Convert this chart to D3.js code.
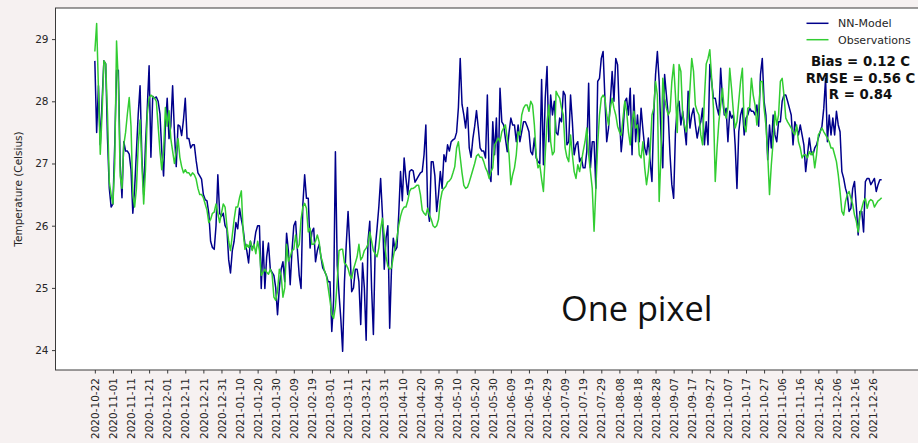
<!DOCTYPE html>
<html>
<head>
<meta charset="utf-8">
<script src="https://cdn.jsdelivr.net/npm/d3@7"></script>
<style>
  html, body { margin: 0; padding: 0; background: #f6f1f1; }
  svg { display: block; }
</style>
</head>
<body>
<svg id="chart" width="918" height="443"></svg>
<script>
// Daily water temperature, 2020-10-22 .. 2021-12-31
const startDate = "2020-10-22";

const tickLabels = [
  "2020-10-22","2020-11-01","2020-11-11","2020-11-21","2020-12-01","2020-12-11","2020-12-21","2020-12-31",
  "2021-01-10","2021-01-20","2021-01-30","2021-02-09","2021-02-19","2021-03-01","2021-03-11","2021-03-21",
  "2021-03-31","2021-04-10","2021-04-20","2021-04-30","2021-05-10","2021-05-20","2021-05-30","2021-06-09",
  "2021-06-19","2021-06-29","2021-07-09","2021-07-19","2021-07-29","2021-08-08","2021-08-18","2021-08-28",
  "2021-09-07","2021-09-17","2021-09-27","2021-10-07","2021-10-17","2021-10-27","2021-11-06","2021-11-16",
  "2021-11-26","2021-12-06","2021-12-16","2021-12-26"
];

const yTicks = [24, 25, 26, 27, 28, 29];

const nnModel = [
  28.65,27.5,28.25,27.3,28.0,28.65,28.6,27.4,26.6,26.3,
  26.35,27.3,28.5,28.5,27.0,26.45,27.35,27.2,27.2,27.15,
  26.9,26.2,26.6,27.2,27.8,28.25,27.1,26.5,27.3,27.9,
  28.57,27.1,28.08,28.05,28.07,28.0,27.8,27.2,26.8,27.6,
  28.05,27.4,27.6,28.25,27.5,26.95,27.62,27.6,27.45,27.7,
  28.05,27.4,27.4,27.25,27.3,27.3,27.05,26.85,26.8,26.75,
  26.5,26.42,26.4,26.2,25.75,25.65,25.62,26.0,26.82,26.2,
  26.15,26.2,26.0,25.95,25.45,25.24,25.6,25.75,26.05,25.95,
  26.28,26.1,25.95,25.7,25.6,25.4,25.75,25.62,25.7,25.9,
  26.0,26.0,24.99,25.75,24.99,25.5,25.72,25.3,25.25,25.2,
  25.0,24.57,25.0,25.3,25.42,25.1,25.88,25.6,25.05,25.6,
  26.0,26.07,25.6,25.2,24.99,26.34,26.82,26.44,26.44,25.64,
  25.9,25.96,25.42,25.6,25.7,25.5,25.32,25.27,25.2,25.1,
  25.1,24.3,24.8,27.19,25.37,24.9,24.5,23.98,25.1,25.7,
  26.23,25.64,24.94,25.0,25.3,25.3,25.1,24.41,25.4,25.0,
  24.16,25.75,26.07,25.0,24.25,25.64,25.95,26.3,26.76,26.18,
  25.3,25.8,26.0,24.35,25.3,25.8,25.6,25.65,26.18,26.87,
  26.4,27.09,26.76,26.5,26.87,26.9,26.88,26.7,26.75,26.8,
  26.85,26.87,27.14,27.62,26.3,26.07,27.03,27.03,26.8,26.23,
  26.5,26.87,26.6,27.14,27.03,27.3,27.2,27.35,27.38,27.4,
  27.5,27.9,28.69,27.95,27.78,27.57,27.9,27.25,27.1,27.4,
  27.6,27.85,27.57,27.25,27.2,27.2,27.09,28.1,26.82,26.71,
  27.67,27.14,27.73,26.82,28.21,27.67,27.62,27.4,27.19,27.5,
  27.73,27.62,27.62,27.35,27.62,27.35,27.51,27.67,27.67,27.6,
  27.51,27.19,27.14,27.41,27.09,27.03,27.0,28.35,26.98,28.05,
  28.56,27.35,28.1,27.78,28.0,27.5,27.46,27.73,27.67,28.16,
  28.1,27.3,27.35,28.1,27.67,27.14,27.3,27.35,27.03,27.09,
  26.93,26.93,27.2,28.29,26.93,27.35,27.35,26.6,28.32,28.37,
  28.69,28.8,28.05,27.35,27.57,28.0,28.48,28.0,28.69,28.59,
  27.78,27.19,27.5,27.99,28.05,27.78,28.21,27.14,28.1,27.35,
  27.78,27.35,27.89,27.55,27.25,27.14,27.41,27.03,26.71,27.78,
  28.43,28.8,28.32,27.46,26.93,28.43,28.1,27.78,27.14,26.66,
  26.44,27.5,27.9,28.0,27.62,27.84,27.57,27.3,28.16,27.57,
  27.78,27.89,27.62,27.41,27.57,27.67,27.89,27.3,27.67,27.3,
  28.59,28.32,28.05,28.05,27.89,27.78,28.53,28.05,27.78,27.89,
  27.35,27.84,27.73,27.78,27.3,26.6,27.51,27.78,27.89,27.46,
  27.73,27.78,27.89,27.84,27.84,27.78,27.94,27.6,28.43,28.69,
  28.0,27.78,27.06,27.62,27.25,27.78,27.46,27.35,27.67,27.67,
  28.0,28.1,28.1,28.0,27.89,27.78,27.3,27.67,27.57,27.46,
  27.62,27.46,27.3,26.87,27.14,27.41,27.19,27.14,27.25,27.3,
  27.41,27.51,27.6,27.89,28.37,27.35,27.78,27.46,27.73,27.46,
  27.84,27.62,27.51,26.87,26.76,26.6,26.5,26.23,26.28,26.6,
  26.71,26.3,25.85,26.23,26.23,25.9,26.71,26.76,26.76,26.66,
  26.71,26.76,26.55,26.66,26.74,26.74
];

const observations = [
  28.8,29.25,28.2,27.15,27.8,28.65,28.6,27.8,26.7,26.5,
  26.35,27.0,28.97,28.3,26.8,26.6,27.3,27.5,27.8,28.06,
  27.6,26.5,26.3,26.6,27.3,27.7,27.0,26.35,26.9,27.8,
  28.05,28.1,28.07,28.05,28.0,27.6,27.2,26.9,27.2,27.9,
  27.6,27.85,27.4,27.2,27.0,27.2,27.4,27.1,26.95,26.85,
  26.9,26.85,26.85,26.8,26.85,26.82,26.75,26.6,26.5,26.5,
  26.45,26.35,26.25,26.05,26.1,26.2,26.22,26.35,26.2,26.05,
  26.2,26.35,26.3,26.0,25.75,25.6,25.85,26.1,26.3,26.3,
  26.45,26.56,25.9,25.62,25.7,25.65,25.75,25.6,25.7,25.55,
  25.75,25.6,25.2,25.25,25.3,25.25,25.22,25.3,25.22,24.85,
  24.8,24.95,25.3,25.2,24.85,25.0,25.7,25.43,25.5,25.6,
  25.62,25.85,25.64,25.7,26.1,26.3,26.36,26.28,25.9,25.96,
  25.7,25.7,25.75,25.85,25.74,25.5,25.4,25.27,25.2,25.0,
  24.8,24.57,24.51,24.7,25.1,25.6,25.62,25.62,25.4,25.37,
  25.31,25.2,25.15,25.3,25.4,25.5,25.7,25.45,25.5,25.6,
  25.64,25.7,25.9,25.75,25.6,25.55,25.5,25.64,25.95,26.12,
  25.85,25.5,25.35,25.3,25.32,25.5,25.65,25.8,26.0,26.15,
  26.25,26.3,26.3,26.4,26.55,26.6,26.6,26.62,26.65,26.65,
  26.5,26.25,26.2,26.17,26.28,26.17,26.1,26.0,25.97,26.0,
  26.1,26.4,26.55,26.6,26.63,26.7,26.72,26.76,26.85,26.95,
  27.25,27.35,27.1,26.85,26.65,26.6,26.62,26.7,26.8,26.9,
  27.0,27.12,27.15,27.1,27.1,27.03,26.93,26.87,26.76,26.87,
  26.93,27.3,27.35,27.41,27.35,27.51,27.57,27.62,27.4,27.14,
  26.66,26.82,26.93,27.14,27.51,27.46,27.78,27.89,27.94,27.94,
  27.84,28.0,27.94,27.62,27.14,26.93,26.98,26.75,26.55,27.14,
  27.67,27.94,27.35,27.14,27.19,28.16,28.1,28.05,27.89,27.78,
  27.25,27.1,27.03,27.46,27.14,26.87,26.76,26.98,26.87,27.03,
  27.2,27.35,27.57,27.14,26.87,26.6,25.91,26.6,27.3,27.78,
  28.05,28.1,28.05,27.78,27.62,27.89,28.05,27.89,27.78,27.6,
  27.51,27.45,27.73,28.0,27.84,27.51,27.3,27.67,27.84,27.57,
  27.62,27.14,27.09,27.35,26.93,26.66,26.87,27.2,27.78,27.89,
  28.32,28.1,26.39,27.14,28.37,28.05,27.89,27.78,27.84,28.32,
  28.59,28.1,27.5,28.59,28.48,27.78,27.62,27.51,27.73,28.2,
  28.69,28.48,27.94,27.84,27.78,27.46,27.3,28.05,28.6,28.69,
  28.83,28.37,27.89,26.71,27.25,27.67,27.94,28.21,27.84,27.73,
  27.9,28.53,28.21,27.84,27.57,27.67,28.0,28.32,28.53,27.62,
  27.51,27.89,27.9,28.37,28.1,27.94,27.62,27.84,28.32,28.32,
  27.89,27.62,27.14,26.5,26.98,27.35,27.84,27.62,27.78,28.32,
  28.37,28.1,27.73,27.67,27.62,27.57,27.51,27.46,27.62,27.35,
  27.25,27.09,27.14,27.14,27.09,27.19,27.14,27.19,26.93,27.14,
  27.46,27.51,27.57,27.51,27.46,27.41,27.35,27.25,27.25,27.14,
  27.03,26.82,26.55,26.23,26.17,26.39,26.5,26.55,26.44,26.34,
  26.17,26.07,25.9,26.17,26.28,26.39,26.44,26.28,26.39,26.42,
  26.4,26.3,26.35,26.4,26.42,26.45
];

const seriesNames = ["NN-Model", "Observations"];
const seriesColors = ["#00008b", "#32cd32"];
const statsLines = ["Bias = 0.12 C", "RMSE = 0.56 C", "R = 0.84"];
const yLabel = "Temperature (Celsius)";
const note = "One pixel";

// ---- layout ----
const svg = d3.select("#chart");
const plot = { left: 55.5, top: 8, right: 921, bottom: 370 };
const tickFont = "10.5px";

const parseDay = d3.utcParse("%Y-%m-%d");
const day0 = parseDay(startDate);
const dates = nnModel.map((_, i) => d3.utcDay.offset(day0, i));

// 5% padding on each side of the data range
const t0 = dates[0], t1 = dates[dates.length - 1];
const pad = (t1 - t0) * 0.05;
const x = d3.scaleUtc()
  .domain([new Date(+t0 - pad), new Date(+t1 + pad)])
  .range([plot.left, plot.right]);

const y = d3.scaleLinear()
  .domain([23.68, 29.5])
  .range([plot.bottom, plot.top]);

// plot background
svg.append("rect")
  .attr("x", plot.left).attr("y", plot.top)
  .attr("width", plot.right - plot.left).attr("height", plot.bottom - plot.top)
  .attr("fill", "#ffffff");

// series
svg.append("clipPath").attr("id", "plotclip")
  .append("rect")
  .attr("x", plot.left).attr("y", plot.top)
  .attr("width", plot.right - plot.left).attr("height", plot.bottom - plot.top);

const lineGen = d3.line()
  .x((d, i) => x(dates[i]))
  .y(d => y(d));

const lines = svg.append("g").attr("clip-path", "url(#plotclip)");
[nnModel, observations].forEach((vals, k) => {
  lines.append("path")
    .datum(vals)
    .attr("fill", "none")
    .attr("stroke", seriesColors[k])
    .attr("stroke-width", 1.5)
    .attr("stroke-linejoin", "round")
    .attr("d", lineGen);
});

// frame
svg.append("rect")
  .attr("x", plot.left).attr("y", plot.top)
  .attr("width", plot.right - plot.left).attr("height", plot.bottom - plot.top)
  .attr("fill", "none")
  .attr("stroke", "#3a3a3a")
  .attr("stroke-width", 1);

// y axis
const yAxis = d3.axisLeft(y)
  .tickValues(yTicks)
  .tickFormat(d3.format("d"))
  .tickSize(3.5)
  .tickPadding(3.5);
const gy = svg.append("g")
  .attr("transform", `translate(${plot.left},0)`)
  .call(yAxis);
gy.select(".domain").remove();
gy.selectAll(".tick line").attr("stroke", "#3a3a3a");
gy.selectAll(".tick text")
  .attr("fill", "#262626")
  .style("font-family", "'DejaVu Sans', sans-serif")
  .style("font-size", tickFont);

// x axis, one tick every ten days
const xTickDates = tickLabels.map(parseDay);
const xAxis = d3.axisBottom(x)
  .tickValues(xTickDates)
  .tickFormat(d3.utcFormat("%Y-%m-%d"))
  .tickSize(3.5)
  .tickPadding(3.5);
const gx = svg.append("g")
  .attr("transform", `translate(0,${plot.bottom})`)
  .call(xAxis);
gx.select(".domain").remove();
gx.selectAll(".tick line").attr("stroke", "#3a3a3a");
gx.selectAll(".tick text")
  .attr("fill", "#262626")
  .style("font-family", "'DejaVu Sans', sans-serif")
  .style("font-size", tickFont)
  .attr("text-anchor", "end")
  .attr("transform", "rotate(-90)")
  .attr("x", -8)
  .attr("y", 0)
  .attr("dy", "0.35em");

// y axis title
svg.append("text")
  .attr("transform", `translate(22,${(plot.top + plot.bottom) / 2}) rotate(-90)`)
  .attr("text-anchor", "middle")
  .attr("fill", "#262626")
  .style("font-family", "'DejaVu Sans', sans-serif")
  .style("font-size", tickFont)
  .text(yLabel);

// legend
const legend = svg.append("g").attr("transform", "translate(806.5,23.3)");
seriesNames.forEach((name, k) => {
  const row = legend.append("g").attr("transform", `translate(0,${k * 16.4})`);
  row.append("line")
    .attr("x1", 0).attr("x2", 22)
    .attr("stroke", seriesColors[k])
    .attr("stroke-width", 1.5);
  row.append("text")
    .attr("x", 31.5).attr("dy", "0.35em")
    .attr("fill", "#262626")
    .style("font-family", "'DejaVu Sans', sans-serif")
    .style("font-size", "11px")
    .text(name);
});

// statistics block
svg.append("g")
  .selectAll("text")
  .data(statsLines)
  .join("text")
  .attr("x", 860.5)
  .attr("y", (d, i) => 66 + i * 16.6)
  .attr("text-anchor", "middle")
  .attr("fill", "#111")
  .style("font-family", "'DejaVu Sans', sans-serif")
  .style("font-weight", "bold")
  .style("font-size", "13.3px")
  .text(d => d);

// annotation
svg.append("text")
  .attr("x", 561)
  .attr("y", 321)
  .attr("fill", "#111")
  .style("font-family", "'Open Sans', sans-serif")
  .style("font-size", "34.3px")
  .text(note);
</script>
</body>
</html>
